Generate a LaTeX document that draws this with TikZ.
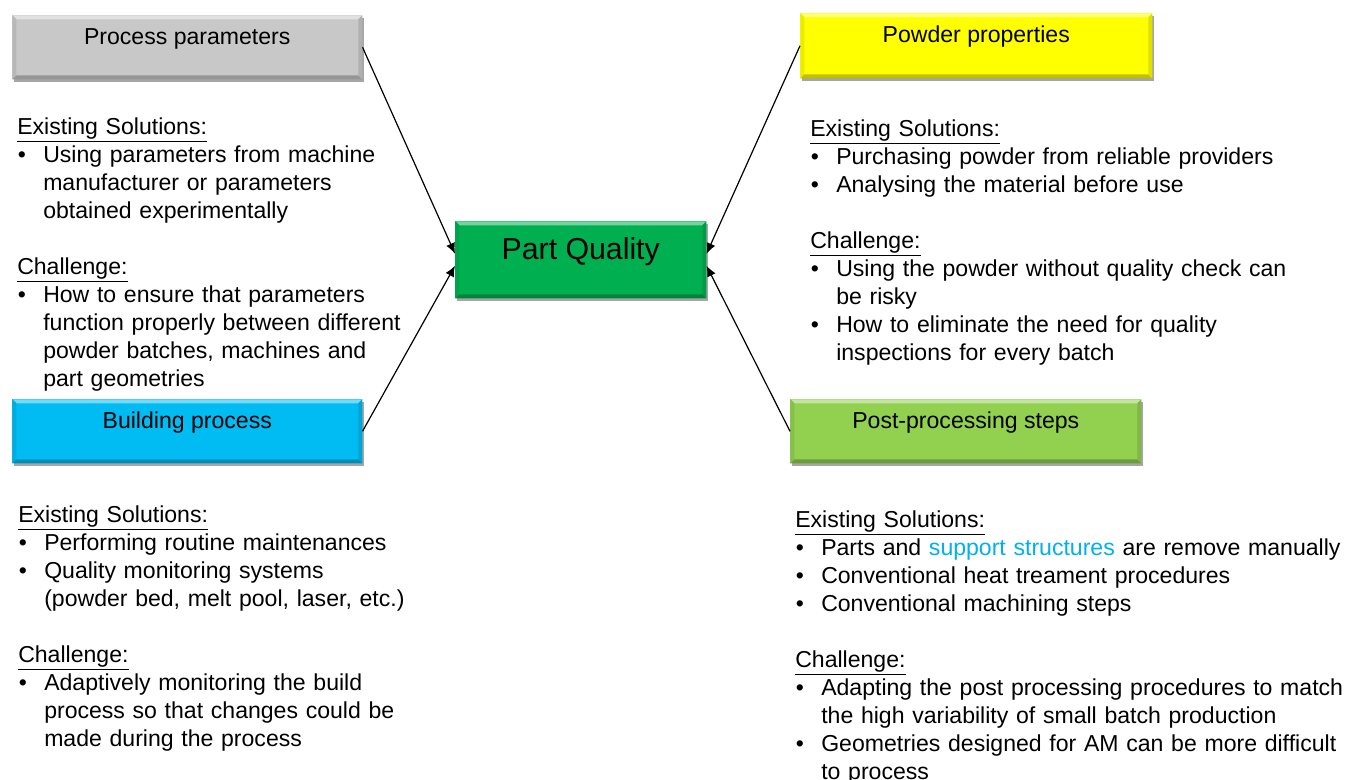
\documentclass[tikz,border=0pt]{standalone}
\usepackage{fontspec}
\setmainfont{Liberation Sans}
\usetikzlibrary{arrows.meta,shadows}
\definecolor{cgray}{HTML}{C8C8C8}
\definecolor{cyellow}{HTML}{FFFF00}
\definecolor{ccyan}{HTML}{00BCF2}
\definecolor{cgreen}{HTML}{00B050}
\definecolor{clime}{HTML}{92D050}
\definecolor{sblue}{HTML}{00B0F0}
\newcommand\bodyfont{\fontsize{17.3pt}{21pt}\selectfont}
\newcommand\hdl[1]{\par\noindent\underline{#1}}
\newcommand\bul[1]{\par\hangindent=19.5pt\hangafter=1\noindent\makebox[19.5pt][l]{\hspace{0.5pt}•}#1}
\newcommand\gapl{\par\vskip21pt}
\tikzset{
  bx/.style={rectangle, inner sep=0pt, fill=#1,
    drop shadow={shadow xshift=1.5pt, shadow yshift=-2pt, opacity=0.35, fill=black},
    path picture={
      \coordinate (bnw) at (path picture bounding box.north west);
      \coordinate (bne) at (path picture bounding box.north east);
      \coordinate (bsw) at (path picture bounding box.south west);
      \coordinate (bse) at (path picture bounding box.south east);
      \fill[#1!55!white] (bnw) -- (bne) -- ([shift={(-3pt,-3pt)}]bne) -- ([shift={(3pt,-3pt)}]bnw) -- cycle;
      \fill[#1!75!black] (bsw) -- (bse) -- ([shift={(-3pt,3pt)}]bse) -- ([shift={(3pt,3pt)}]bsw) -- cycle;
      \fill[#1!88!black] (bne) -- (bse) -- ([shift={(-3pt,3pt)}]bse) -- ([shift={(-3pt,-3pt)}]bne) -- cycle;
      \fill[#1!92!black] (bnw) -- (bsw) -- ([shift={(3pt,3pt)}]bsw) -- ([shift={(3pt,-3pt)}]bnw) -- cycle;
    }},
  side/.style={bx=#1, anchor=north west, font=\bodyfont, minimum width=262.5pt,
    minimum height=48pt, text height=21.75pt, text depth=26.25pt},
  txt/.style={anchor=north west, inner sep=0pt, text width=420pt, font=\bodyfont},
  conn/.style={line width=0.9pt, -{Latex[length=8pt,width=7pt]}}
}
\begin{document}
\begin{tikzpicture}[x=0.75pt,y=-0.75pt]
\useasboundingbox (0,0) rectangle (1357,780);
\fill[white] (0,0) rectangle (1357,780);

\node[side=cgray] (pp) at (12,15) {Process parameters};
\node[side=cyellow, minimum width=264pt, minimum height=48.75pt, text depth=27pt] (pw) at (800,13) {Powder properties};
\node[side=ccyan] (bp) at (12,399) {Building process};
\node[side=clime, minimum width=263.25pt] (ps) at (790,399) {Post-processing steps};
\node[bx=cgreen, anchor=north west, minimum width=188.25pt, minimum height=57.75pt,
      text height=28.5pt, text depth=29.25pt, font=\fontsize{22.7pt}{26pt}\selectfont]
      (pq) at (455,221) {Part Quality};

\draw[conn] (pp.east) -- ([yshift=4.5pt]pq.west);
\draw[conn] (bp.east) -- ([yshift=-4.5pt]pq.west);
\draw[conn] (pw.west) -- ([yshift=4.5pt]pq.east);
\draw[conn] (ps.west) -- ([yshift=-4.5pt]pq.east);

\node[txt] (lt) at (17,106.5) {%
\hdl{Existing Solutions:}%
\bul{Using parameters from machine\newline manufacturer or parameters\newline obtained experimentally}%
\gapl\hdl{Challenge:}%
\bul{How to ensure that parameters\newline function properly between different\newline powder batches, machines and\newline part geometries}\par};

\node[txt] (rt) at (810,108) {%
\hdl{Existing Solutions:}%
\bul{Purchasing powder from reliable providers}%
\bul{Analysing the material before use}%
\gapl\hdl{Challenge:}%
\bul{Using the powder without quality check can\newline be risky}%
\bul{How to eliminate the need for quality\newline inspections for every batch}\par};

\node[txt] (lb) at (18,494) {%
\hdl{Existing Solutions:}%
\bul{Performing routine maintenances}%
\bul{Quality monitoring systems\newline (powder bed, melt pool, laser, etc.)}%
\gapl\hdl{Challenge:}%
\bul{Adaptively monitoring the build\newline process so that changes could be\newline made during the process}\par};

\node[txt] (rb) at (795,499) {%
\hdl{Existing Solutions:}%
\bul{Parts and \textcolor{sblue}{support structures} are remove manually}%
\bul{Conventional heat treament procedures}%
\bul{Conventional machining steps}%
\gapl\hdl{Challenge:}%
\bul{Adapting the post processing procedures to match\newline the high variability of small batch production}%
\bul{Geometries designed for AM can be more difficult\newline to process}\par};
\end{tikzpicture}
\end{document}
